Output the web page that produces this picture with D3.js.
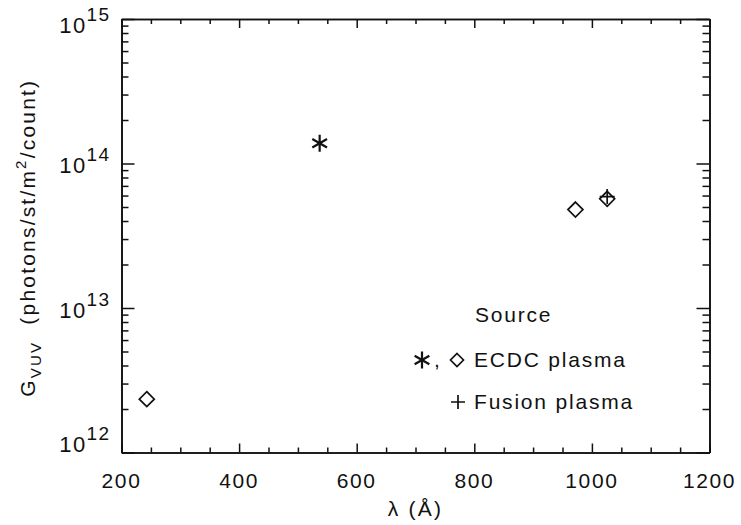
<!DOCTYPE html>
<html><head><meta charset="utf-8">
<script src="https://cdn.jsdelivr.net/npm/d3@7"></script>
<style>
body{margin:0;background:#fff;}
text{font-family:"Liberation Sans",Arial,sans-serif;fill:#111;}
</style></head>
<body><svg id="c" width="741" height="525"></svg>
<script>
// ---- data ----
const xTicks = [200, 400, 600, 800, 1000, 1200];
const xMinor = d3.range(200, 1201, 50);
const yExponents = [12, 13, 14, 15];
const ecdcStarLambda = [537];
const ecdcStarG = [1.38e14];
const ecdcDiamondLambda = [243, 972, 1026];
const ecdcDiamondG = [2.34e12, 4.8e13, 5.7e13];
const fusionLambda = [1026];
const fusionG = [5.9e13];
const legendTitle = "Source";
const legendLabels = ["ECDC plasma", "Fusion plasma"];

const svg = d3.select("#c");
const L = 121.5, R = 709.5, T = 19, B = 452.5;
const x = d3.scaleLinear().domain([200, 1200]).range([L, R]);
const y = d3.scaleLog().domain([1e12, 1e15]).range([B, T]);

const yMajor = yExponents.map(e => Math.pow(10, e));
const yMinor = [];
yExponents.slice(0, -1).forEach(e => { for (let k = 2; k <= 9; k++) yMinor.push(k * Math.pow(10, e)); });
const xMinorOnly = xMinor.filter(v => !xTicks.includes(v));

const axisStyle = g => { g.selectAll("path,line").attr("stroke", "#111").attr("stroke-width", 1.5); g.selectAll("text").remove(); g.select(".domain").attr("stroke-width", 1.6); };

// bottom axis
svg.append("g").attr("transform", `translate(0,${B})`).call(d3.axisBottom(x).tickValues(xTicks).tickSizeInner(-9).tickSizeOuter(0)).call(axisStyle);
svg.append("g").attr("transform", `translate(0,${B})`).call(d3.axisBottom(x).tickValues(xMinorOnly).tickSizeInner(-5).tickSizeOuter(0)).call(axisStyle);
// top axis
svg.append("g").attr("transform", `translate(0,${T})`).call(d3.axisTop(x).tickValues(xTicks).tickSizeInner(-9).tickSizeOuter(0)).call(axisStyle);
svg.append("g").attr("transform", `translate(0,${T})`).call(d3.axisTop(x).tickValues(xMinorOnly).tickSizeInner(-5).tickSizeOuter(0)).call(axisStyle);
// left axis
svg.append("g").attr("transform", `translate(${L},0)`).call(d3.axisLeft(y).tickValues(yMajor).tickSizeInner(-13).tickSizeOuter(0)).call(axisStyle);
svg.append("g").attr("transform", `translate(${L},0)`).call(d3.axisLeft(y).tickValues(yMinor).tickSizeInner(-7).tickSizeOuter(0)).call(axisStyle);
// right axis
svg.append("g").attr("transform", `translate(${R},0)`).call(d3.axisRight(y).tickValues(yMajor).tickSizeInner(-13).tickSizeOuter(0)).call(axisStyle);
svg.append("g").attr("transform", `translate(${R},0)`).call(d3.axisRight(y).tickValues(yMinor).tickSizeInner(-7).tickSizeOuter(0)).call(axisStyle);

// x tick labels
svg.append("g").selectAll("text").data(xTicks).join("text")
  .attr("x", d => x(d)).attr("y", B + 35).attr("text-anchor", "middle")
  .attr("font-size", 21).attr("letter-spacing", 1.6).text(d => d);

// y tick labels
const yShift = {12: -1, 13: 10, 14: 9, 15: 14};
const yl = svg.append("g").selectAll("text").data(yExponents).join("text")
  .attr("x", L - 11).attr("y", d => y(Math.pow(10, d)) + yShift[d])
  .attr("text-anchor", "end").attr("font-size", 22).attr("letter-spacing", 1.4);
yl.append("tspan").text("10");
yl.append("tspan").attr("dy", -12).attr("font-size", 19).text(d => d);

// axis titles
svg.append("text").attr("x", (L + R) / 2).attr("y", 516).attr("text-anchor", "middle")
  .attr("font-size", 21).attr("letter-spacing", 2.2).text("λ (Å)");
const yt = svg.append("text").attr("transform", `translate(35,${(T + B) / 2 + 2}) rotate(-90)`)
  .attr("text-anchor", "middle").attr("font-size", 21).attr("letter-spacing", 2.2)
  .style("white-space", "pre");
yt.append("tspan").text("G");
yt.append("tspan").attr("dy", 6).attr("font-size", 15).text("VUV");
yt.append("tspan").attr("dy", -6).text("  (photons/st/m");
yt.append("tspan").attr("dy", -9).attr("font-size", 15).text("2");
yt.append("tspan").attr("dy", 9).text("/count)");

// marker shapes
const diamond = s => `M0,${-s}L${s},0L0,${s}L${-s},0Z`;
const plus = s => `M${-s},0H${s}M0,${-s}V${s}`;
const star = s => {
  const a = s * Math.cos(Math.PI / 6), b = s * Math.sin(Math.PI / 6);
  return `M0,${-s}V${s}M${-a},${-b}L${a},${b}M${-a},${b}L${a},${-b}`;
};
function drawMarks(xs, ys, pathFn, size, sw) {
  const g = svg.append("g");
  g.selectAll("path").data(xs.map((v, i) => [v, ys[i]])).join("path")
    .attr("transform", d => `translate(${x(d[0])},${y(d[1])})`)
    .attr("d", pathFn(size)).attr("fill", "none").attr("stroke", "#111").attr("stroke-width", sw);
}
drawMarks(ecdcDiamondLambda, ecdcDiamondG, diamond, 7.5, 1.7);
drawMarks(ecdcStarLambda, ecdcStarG, star, 8.5, 2.2);
drawMarks(fusionLambda, fusionG, plus, 7.5, 1.7);

// legend
const lg = svg.append("g");
lg.append("text").attr("x", 475).attr("y", 322).attr("font-size", 21).attr("letter-spacing", 1.8).text(legendTitle);
lg.append("path").attr("transform", "translate(422,360)").attr("d", star(8.5)).attr("fill", "none").attr("stroke", "#111").attr("stroke-width", 2.2);
lg.append("text").attr("x", 434).attr("y", 367).attr("font-size", 21).text(",");
lg.append("path").attr("transform", "translate(457,360)").attr("d", diamond(6.5)).attr("fill", "none").attr("stroke", "#111").attr("stroke-width", 1.7);
lg.append("text").attr("x", 474).attr("y", 367).attr("font-size", 21).attr("letter-spacing", 1.8).text(legendLabels[0]);
lg.append("path").attr("transform", "translate(458,402)").attr("d", plus(7)).attr("fill", "none").attr("stroke", "#111").attr("stroke-width", 1.7);
lg.append("text").attr("x", 474).attr("y", 409).attr("font-size", 21).attr("letter-spacing", 1.8).text(legendLabels[1]);
</script></body></html>
